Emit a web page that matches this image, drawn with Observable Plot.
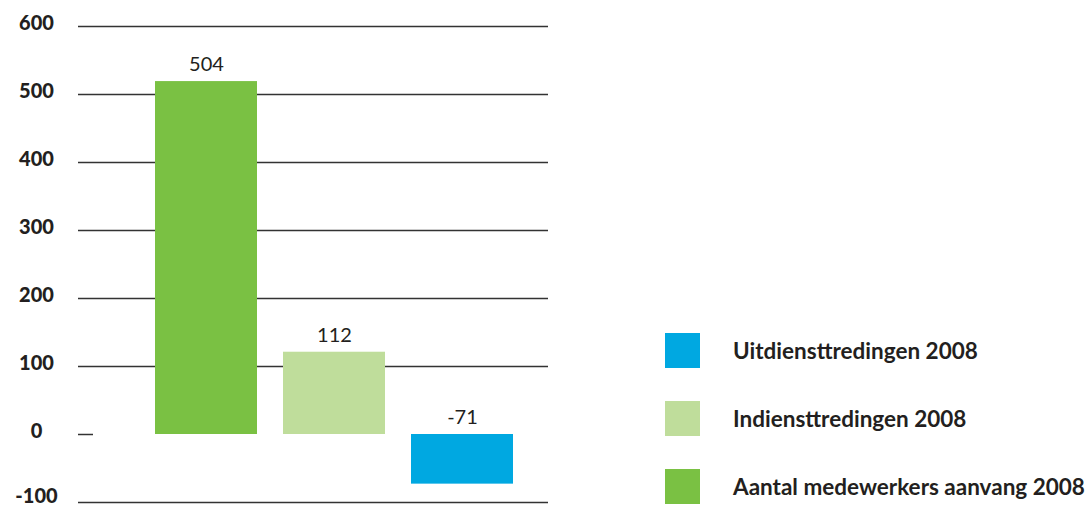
<!DOCTYPE html>
<html>
<head>
<meta charset="utf-8">
<script src="https://cdn.jsdelivr.net/npm/d3@7"></script>
<script src="https://cdn.jsdelivr.net/npm/@observablehq/plot@0.6"></script>
<style>
  html, body { margin: 0; padding: 0; background: #fff; }
  #wrap { position: relative; width: 1091px; height: 506px; font-family: Lato, "Open Sans", sans-serif; color: #231f20; }
  #chart { position: absolute; left: 0; top: 0; }
  #legend { position: absolute; left: 665px; top: 333px; }
  .item { display: flex; align-items: center; height: 35px; margin-bottom: 33px; }
  .sw { width: 35px; height: 35px; flex: none; }
  .lab { margin-left: 33px; font-weight: 700; font-size: 22.5px; white-space: nowrap; }
</style>
</head>
<body>
<div id="wrap">
  <div id="chart"></div>
  <div id="legend"></div>
</div>
<script>
const categories = ["Aantal medewerkers aanvang 2008", "Indiensttredingen 2008", "Uitdiensttredingen 2008"];
const barValues = [519, 121, -73];
const valueLabels = ["504", "112", "-71"];
const colors = ["#7ac143", "#bfdd9b", "#00a8e1"];
const yTicks = [0, 100, 200, 300, 400, 500, 600];
const yTicksBottom = [-100];
const gridValues = [-100, 100, 200, 300, 400, 500, 600];
const legendOrder = ["Uitdiensttredingen 2008", "Indiensttredingen 2008", "Aantal medewerkers aanvang 2008"];

const data = categories.map((c, i) => ({cat: c, value: barValues[i], label: valueLabels[i], top: Math.max(barValues[i], 0)}));

const axisStyle = {tickSize: 0, tickPadding: 42, textAnchor: "middle", fontWeight: 900, fontSize: 20, tickFormat: d => String(d), fill: "#231f20"};

const chart = Plot.plot({
  width: 560,
  height: 506,
  marginLeft: 78,
  marginRight: 12,
  marginTop: 26,
  marginBottom: 4,
  style: {fontFamily: "Lato, 'Open Sans', sans-serif", color: "#231f20", background: "#fff", overflow: "visible"},
  x: {domain: categories, range: [154, 514], paddingInner: 0.2, paddingOuter: 0, axis: null},
  y: {domain: [-100, 600]},
  color: {domain: categories, range: colors},
  marks: [
    Plot.ruleY(gridValues, {stroke: "#333", strokeWidth: 1.5}),
    Plot.ruleY([0], {stroke: "#333", strokeWidth: 1.5, insetRight: 455}),
    Plot.axisY({...axisStyle, ticks: yTicks, dy: -3}),
    Plot.axisY({...axisStyle, ticks: yTicksBottom, dy: -6}),
    Plot.barY(data, {x: "cat", y: "value", fill: "cat"}),
    Plot.text(data, {x: "cat", y: "top", text: "label", dy: -17, fontSize: 20, fill: "#231f20"})
  ]
});
document.getElementById("chart").appendChild(chart);

const legend = document.getElementById("legend");
legendOrder.forEach(name => {
  const i = categories.indexOf(name);
  const row = document.createElement("div");
  row.className = "item";
  const sw = document.createElement("div");
  sw.className = "sw";
  sw.style.background = colors[i];
  const lab = document.createElement("div");
  lab.className = "lab";
  lab.textContent = name;
  row.appendChild(sw);
  row.appendChild(lab);
  legend.appendChild(row);
});
</script>
</body>
</html>
